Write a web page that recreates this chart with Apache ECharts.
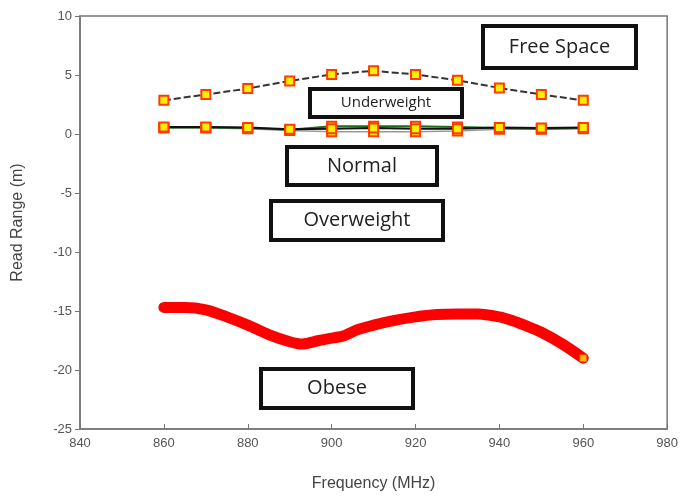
<!DOCTYPE html>
<html>
<head>
<meta charset="utf-8">
<script src="https://cdn.jsdelivr.net/npm/echarts@6/dist/echarts.min.js"></script>
<style>
  html, body { margin: 0; padding: 0; background: #fff; }
  #chart { width: 681px; height: 497px; }
</style>
</head>
<body>
<div id="chart"></div>
<script>
var freq = [860, 870, 880, 890, 900, 910, 920, 930, 940, 950, 960];
var freeSpace = [2.85, 3.35, 3.85, 4.5, 5.05, 5.35, 5.05, 4.55, 3.9, 3.35, 2.85];
var underweight = [0.6, 0.6, 0.55, 0.4, 0.45, 0.5, 0.45, 0.45, 0.55, 0.5, 0.55];
var normal = [0.55, 0.55, 0.5, 0.35, 0.65, 0.65, 0.65, 0.6, 0.5, 0.45, 0.5];
var overweight = [0.5, 0.5, 0.45, 0.3, 0.2, 0.2, 0.2, 0.25, 0.4, 0.4, 0.45];
var obeseFreq = [860, 865, 870, 875, 880, 885, 890, 893, 897, 900, 903, 906, 910, 915, 920, 925, 930, 935, 940, 943, 946, 950, 955, 960];
var obese = [-14.7, -14.7, -14.9, -15.5, -16.2, -17.0, -17.6, -17.8, -17.5, -17.3, -17.1, -16.6, -16.2, -15.8, -15.5, -15.3, -15.25, -15.25, -15.5, -15.8, -16.2, -16.8, -17.8, -19.0];

function pairs(xs, ys) {
  return xs.map(function (x, i) { return [x, ys[i]]; });
}

var marker = {
  color: "#ffee00",
  borderColor: "#ff3b00",
  borderWidth: 2
};

function markedLine(name, values, lineColor, lineType, width) {
  return {
    name: name,
    type: "line",
    data: pairs(freq, values),
    symbol: "rect",
    symbolSize: 9,
    itemStyle: marker,
    lineStyle: { color: lineColor, width: width, type: lineType },
    z: 3
  };
}

var myChart = echarts.init(document.getElementById("chart"));

function box(left, top, w, h, label, size) {
  return {
    type: "group",
    left: left,
    top: top,
    children: [
      {
        type: "rect",
        shape: { x: 0, y: 0, width: w, height: h },
        style: { fill: "#fff", stroke: "#111", lineWidth: 4 }
      },
      {
        type: "text",
        x: w / 2,
        y: h / 2,
        style: {
          text: label,
          fill: "#222",
          font: size + "px 'Open Sans'",
          align: "center",
          verticalAlign: "middle"
        }
      }
    ],
    z: 10
  };
}

var option = {
  animation: false,
  backgroundColor: "#fff",
  grid: {
    left: 80,
    top: 16,
    right: 13,
    bottom: 68,
    show: true,
    borderColor: "#777",
    borderWidth: 1.5
  },
  xAxis: {
    type: "value",
    min: 840,
    max: 980,
    interval: 20,
    name: "Frequency (MHz)",
    nameLocation: "middle",
    nameGap: 47,
    nameTextStyle: { fontSize: 16, color: "#444", fontFamily: "Liberation Sans" },
    axisLine: { onZero: false, lineStyle: { color: "#777", width: 1.5 } },
    axisTick: { show: true, inside: true, length: 5, lineStyle: { color: "#777" } },
    axisLabel: { color: "#555", fontSize: 13, fontFamily: "Liberation Sans", margin: 8 },
    splitLine: { show: false }
  },
  yAxis: {
    type: "value",
    min: -25,
    max: 10,
    interval: 5,
    name: "Read Range (m)",
    nameLocation: "middle",
    nameGap: 54,
    nameTextStyle: { fontSize: 16, color: "#444", fontFamily: "Liberation Sans" },
    axisLine: { show: true, onZero: false, lineStyle: { color: "#777", width: 1.5 } },
    axisTick: { show: true, length: 5, lineStyle: { color: "#777" } },
    axisLabel: { color: "#555", fontSize: 13, fontFamily: "Liberation Sans", margin: 8 },
    splitLine: { show: false }
  },
  series: [
    markedLine("Free Space", freeSpace, "#333", [7, 3], 2),
    markedLine("Overweight", overweight, "#999", "solid", 1.5),
    markedLine("Normal", normal, "#1f6b1f", "solid", 2),
    markedLine("Underweight", underweight, "#111", "solid", 2),
    {
      name: "Obese",
      type: "line",
      data: pairs(obeseFreq, obese),
      symbol: "none",
      smooth: 0.3,
      lineStyle: { color: "#ff0000", width: 11, cap: "round", join: "round" },
      z: 3
    },
    {
      name: "Obese end",
      type: "scatter",
      data: [[obeseFreq[obeseFreq.length - 1], obese[obese.length - 1]]],
      symbol: "rect",
      symbolSize: 7,
      itemStyle: { color: "#ffee00", borderColor: "#ff3b00", borderWidth: 1 },
      z: 4
    }
  ],
  graphic: [
    box(481, 24, 153, 42, "Free Space", 20),
    box(308, 87, 152, 28, "Underweight", 15),
    box(285, 145, 150, 38, "Normal", 20),
    box(269, 199, 172, 39, "Overweight", 20),
    box(259, 367, 152, 39, "Obese", 20)
  ]
};

myChart.setOption(option);
</script>
</body>
</html>
